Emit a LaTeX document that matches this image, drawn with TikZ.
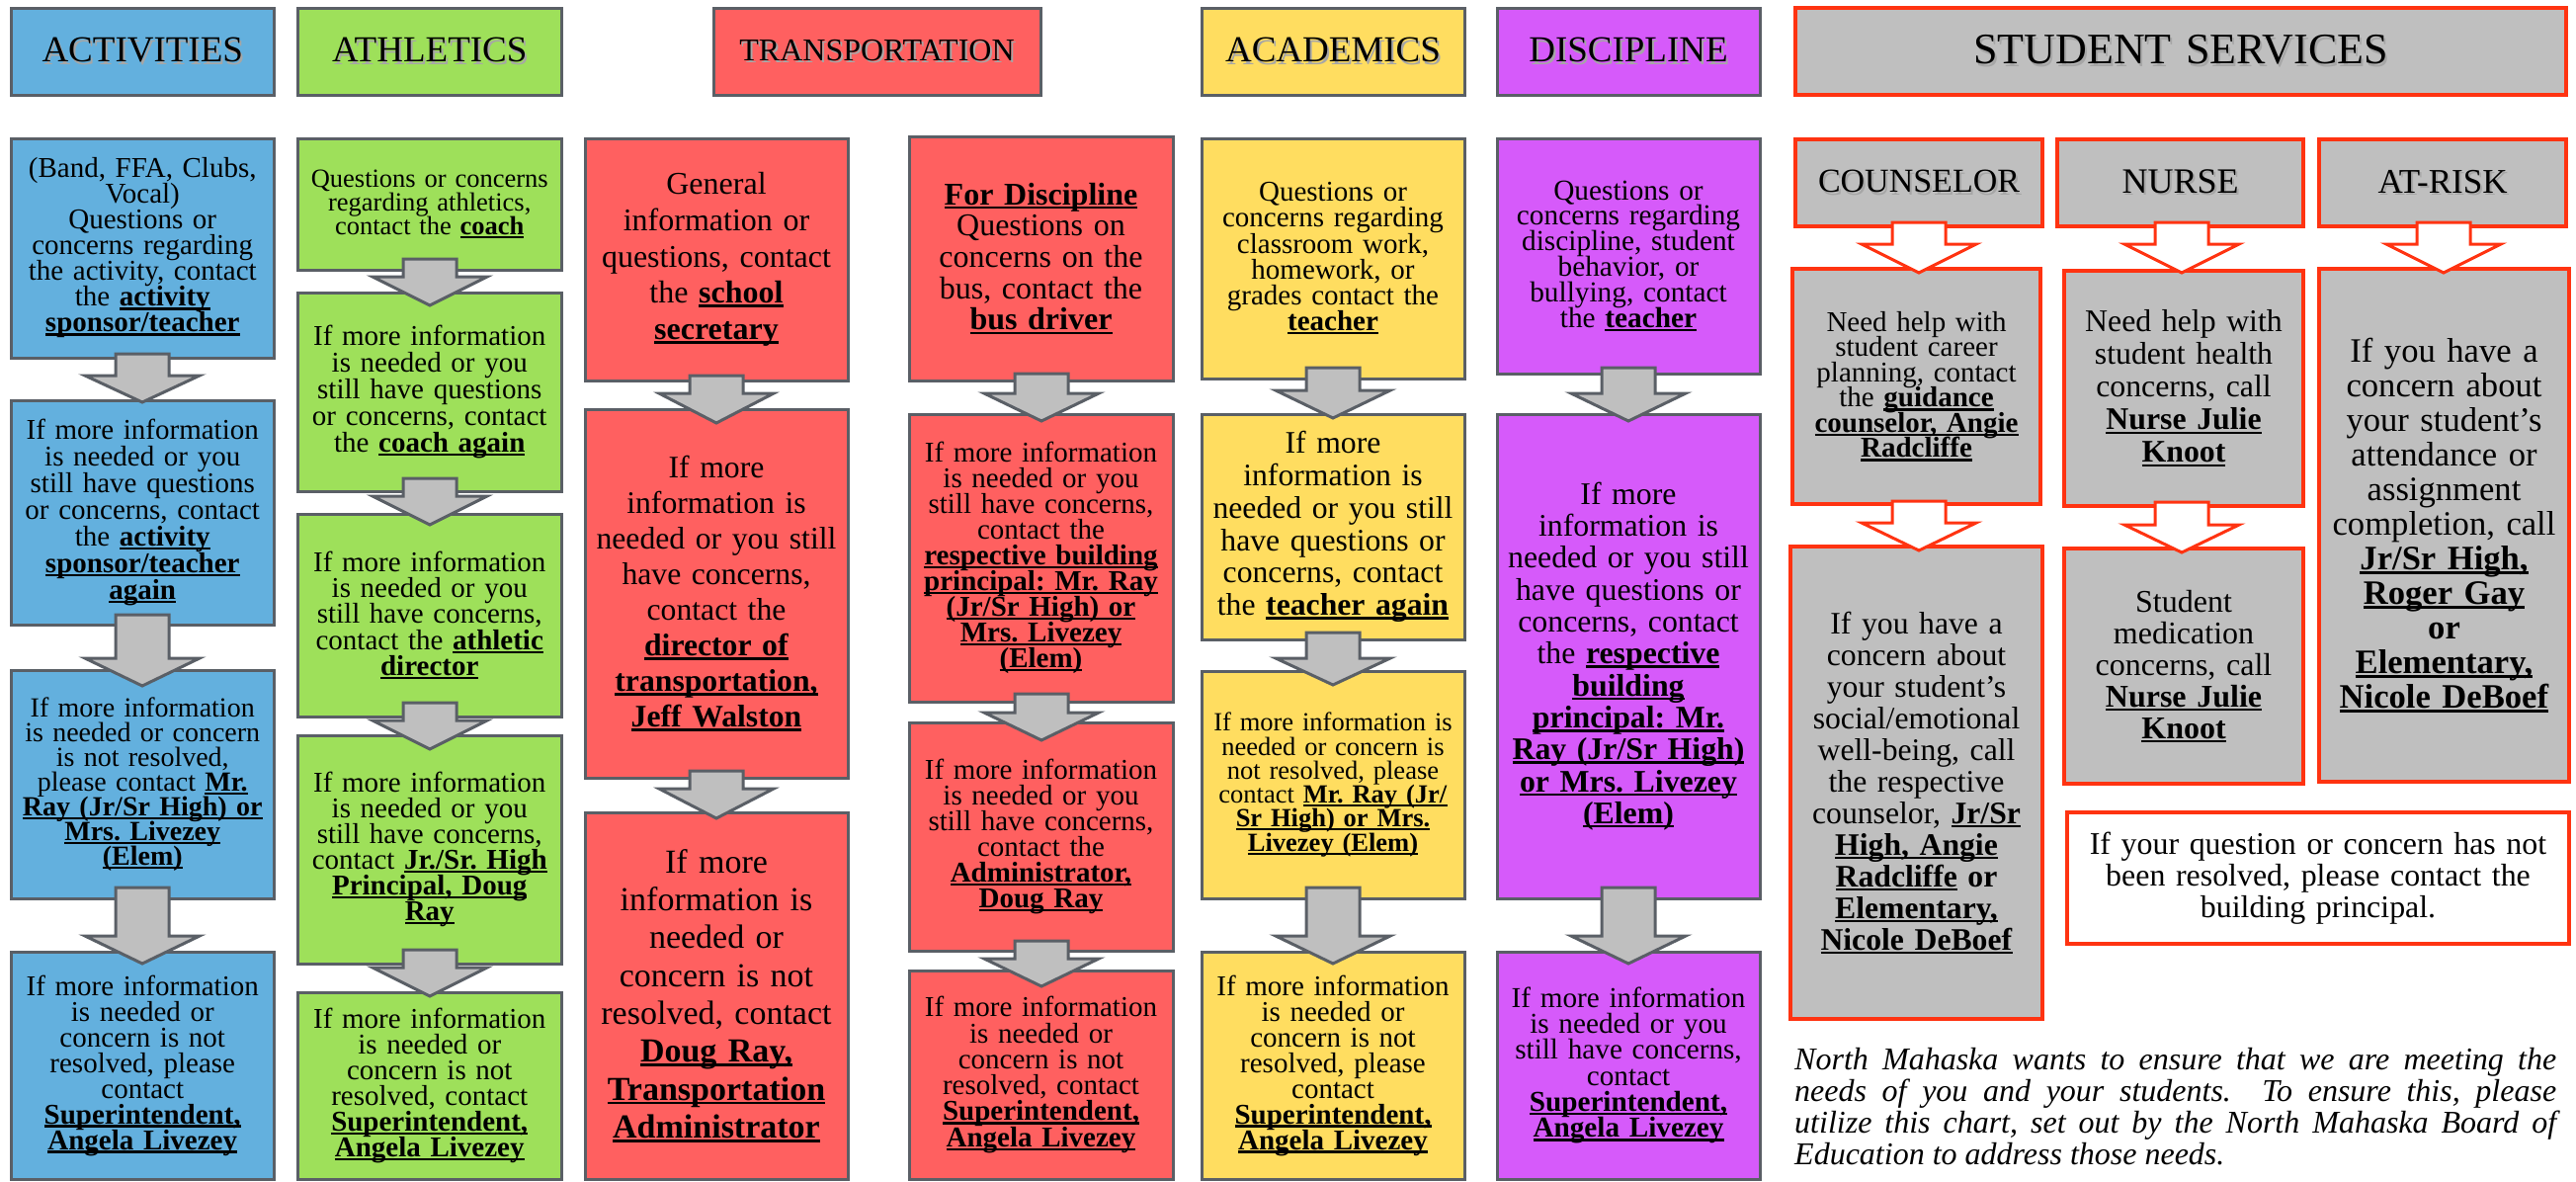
\documentclass[tikz,border=0pt]{standalone}
\usepackage{fontspec}
\setmainfont{Liberation Serif}
\frenchspacing
\definecolor{cblue}{RGB}{99,176,222}
\definecolor{cgreen}{RGB}{158,224,90}
\definecolor{cred}{RGB}{255,96,96}
\definecolor{cyellow}{RGB}{255,221,96}
\definecolor{cpurple}{RGB}{214,90,250}
\definecolor{cgray}{RGB}{191,191,191}
\definecolor{cborder}{RGB}{90,95,102}
\definecolor{corange}{RGB}{255,51,17}
\newcommand\fs[2]{\fontsize{#1}{#2}\selectfont\frenchspacing\lineskiplimit=-100pt\relax}
\newcommand\BU[1]{\leavevmode{\setbox0\hbox{\textbf{#1}}\rlap{\rule[-.13em]{\wd0}{.08em}}\box0}}
\newcommand\shd[1]{\leavevmode\rlap{\hspace{2pt}\raisebox{-2.5pt}{\textcolor{black!35}{#1}}}#1}
\newcommand\bx[7]{%
  \pgfmathsetmacro\BXw{#5-#3}\pgfmathsetmacro\BXh{#6-#4}%
  \pgfmathsetmacro\BXt{#5-#3-6}\pgfmathsetmacro\BXx{(#3+#5)/2}\pgfmathsetmacro\BXy{(#4+#6)/2}%
  \node[#2, minimum width=\BXw pt, minimum height=\BXh pt, text width=\BXt pt] (#1) at (\BXx,\BXy) {#7};}
\newcommand\garr[5]{%
  \draw[#1] ({#2-27},#3) -- ({#2+27},#3) -- ({#2+27},#4) -- ({#2+58},#4) -- (#2,#5) -- ({#2-58},#4) -- ({#2-27},#4) -- cycle;}
\tikzset{
  base/.style={draw=cborder, line width=3pt, inner sep=0pt, align=center, text=black},
  ssbox/.style={draw=corange, line width=3.5pt, fill=cgray, inner sep=0pt, align=center, text=black},
  garrow/.style={draw=cborder, line width=3pt, fill=cgray, line join=miter},
  rarrow/.style={draw=corange, line width=3pt, fill=white, line join=miter},
}
\begin{document}
\begin{tikzpicture}[x=1pt,y=-1pt]
\useasboundingbox[fill=white] (0,0) rectangle (2607,1195);
% ---------- headers ----------
\bx{hAct}{base,fill=cblue,font=\fs{37}{40}}{11.5}{8}{277}{96}{\shd{ACTIVITIES}}
\bx{hAth}{base,fill=cgreen,font=\fs{37}{40}}{301.5}{8}{568}{96}{\shd{ATHLETICS}}
\bx{hTr}{base,fill=cred,font=\fs{32}{36}}{722}{8}{1053}{96}{\shd{TRANSPORTATION}}
\bx{hAca}{base,fill=cyellow,font=\fs{37}{40}}{1216}{8}{1482}{96}{\shd{ACADEMICS}}
\bx{hDis}{base,fill=cpurple,font=\fs{37}{40}}{1515}{8}{1781}{96}{\shd{DISCIPLINE}}
\bx{hSS}{ssbox,font=\fs{44}{48}}{1817}{8}{2597}{96}{\shd{STUDENT SERVICES}}
% ---------- activities ----------
\bx{a1}{base,fill=cblue,font=\fs{29}{26}}{11.5}{140}{277}{362}{(Band, FFA, Clubs,\\Vocal)\\Questions or\\concerns regarding\\the activity, contact\\the \BU{activity}\\\BU{sponsor/teacher}}
\bx{a2}{base,fill=cblue,font=\fs{29}{27}}{11.5}{405}{277}{632}{If more information\\is needed or you\\still have questions\\or concerns, contact\\the \BU{activity}\\\BU{sponsor/teacher}\\\BU{again}}
\bx{a3}{base,fill=cblue,font=\fs{28}{25}}{11.5}{678}{277}{909}{If more information\\is needed or concern\\is not resolved,\\please contact \BU{Mr.}\\\BU{Ray (Jr/Sr High) or}\\\BU{Mrs. Livezey}\\\BU{(Elem)}}
\bx{a4}{base,fill=cblue,font=\fs{29}{26}}{11.5}{963}{277}{1193}{If more information\\is needed or\\concern is not\\resolved, please\\contact\\\BU{Superintendent,}\\\BU{Angela Livezey}}
% ---------- athletics ----------
\bx{t1}{base,fill=cgreen,font=\fs{26.5}{24}}{301.5}{140}{568}{273}{Questions or concerns\\regarding athletics,\\contact the \BU{coach}}
\bx{t2}{base,fill=cgreen,font=\fs{29}{27}}{301.5}{296}{568}{497}{If more information\\is needed or you\\still have questions\\or concerns, contact\\the \BU{coach again}}
\bx{t3}{base,fill=cgreen,font=\fs{29}{26.3}}{301.5}{520}{568}{725}{If more information\\is needed or you\\still have concerns,\\contact the \BU{athletic}\\\BU{director}}
\bx{t4}{base,fill=cgreen,font=\fs{29}{26}}{301.5}{744}{568}{975}{If more information\\is needed or you\\still have concerns,\\contact \BU{Jr./Sr. High}\\\BU{Principal, Doug}\\\BU{Ray}}
\bx{t5}{base,fill=cgreen,font=\fs{29}{26}}{301.5}{1004}{568}{1193}{If more information\\is needed or\\concern is not\\resolved, contact\\\BU{Superintendent,}\\\BU{Angela Livezey}}
% ---------- transportation ----------
\bx{r1}{base,fill=cred,font=\fs{32}{36.7}}{592}{140}{858}{385}{General\\information or\\questions, contact\\the \BU{school}\\\BU{secretary}}
\bx{r2}{base,fill=cred,font=\fs{31.7}{36}}{592}{414}{858}{787}{If more\\information is\\needed or you still\\have concerns,\\contact the\\\BU{director of}\\\BU{transportation,}\\\BU{Jeff Walston}}
\bx{r3}{base,fill=cred,font=\fs{34}{38.3}}{592}{822}{858}{1193}{If more\\information is\\needed or\\concern is not\\resolved, contact\\\BU{Doug Ray,}\\\BU{Transportation}\\\BU{Administrator}}
\bx{s1}{base,fill=cred,font=\fs{32}{31.7}}{920}{138}{1187}{385}{\BU{For Discipline}\\Questions on\\concerns on the\\bus, contact the\\\BU{bus driver}}
\bx{s2}{base,fill=cred,font=\fs{29}{26}}{920}{419}{1187}{710}{If more information\\is needed or you\\still have concerns,\\contact the\\\BU{respective building}\\\BU{principal: Mr. Ray}\\\BU{(Jr/Sr High) or}\\\BU{Mrs. Livezey}\\\BU{(Elem)}}
\bx{s3}{base,fill=cred,font=\fs{29}{26}}{920}{731}{1187}{962}{If more information\\is needed or you\\still have concerns,\\contact the\\\BU{Administrator,}\\\BU{Doug Ray}}
\bx{s4}{base,fill=cred,font=\fs{29}{26.3}}{920}{982}{1187}{1193}{If more information\\is needed or\\concern is not\\resolved, contact\\\BU{Superintendent,}\\\BU{Angela Livezey}}
% ---------- academics ----------
\bx{c1}{base,fill=cyellow,font=\fs{29}{26.2}}{1216}{140}{1482}{383}{Questions or\\concerns regarding\\classroom work,\\homework, or\\grades contact the\\\BU{teacher}}
\bx{c2}{base,fill=cyellow,font=\fs{31.7}{32.7}}{1216}{419}{1482}{647}{If more\\information is\\needed or you still\\have questions or\\concerns, contact\\the \BU{teacher again}}
\bx{c3}{base,fill=cyellow,font=\fs{26.5}{24.3}}{1216}{679}{1482}{909}{If more information is\\needed or concern is\\not resolved, please\\contact \BU{Mr. Ray (Jr/}\\\BU{Sr High) or Mrs.}\\\BU{Livezey (Elem)}}
\bx{c4}{base,fill=cyellow,font=\fs{29}{26}}{1216}{963}{1482}{1193}{If more information\\is needed or\\concern is not\\resolved, please\\contact\\\BU{Superintendent,}\\\BU{Angela Livezey}}
% ---------- discipline ----------
\bx{d1}{base,fill=cpurple,font=\fs{29.3}{25.9}}{1515}{140}{1781}{378}{Questions or\\concerns regarding\\discipline, student\\behavior, or\\bullying, contact\\the \BU{teacher}}
\bx{d2}{base,fill=cpurple,font=\fs{31.8}{32.3}}{1515}{419}{1781}{909}{If more\\information is\\needed or you still\\have questions or\\concerns, contact\\the \BU{respective}\\\BU{building}\\\BU{principal: Mr.}\\\BU{Ray (Jr/Sr High)}\\\BU{or Mrs. Livezey}\\\BU{(Elem)}}
\bx{d3}{base,fill=cpurple,font=\fs{29.2}{26.3}}{1515}{963}{1781}{1193}{If more information\\is needed or you\\still have concerns,\\contact\\\BU{Superintendent,}\\\BU{Angela Livezey}}
% ---------- student services ----------
\bx{hCns}{ssbox,font=\fs{34}{38}}{1817}{141}{2067}{229}{\shd{COUNSELOR}}
\bx{hNrs}{ssbox,font=\fs{36}{40}}{2082}{141}{2331}{229}{\shd{NURSE}}
\bx{hAtr}{ssbox,font=\fs{35}{40}}{2347}{141}{2597}{229}{\shd{AT-RISK}}
\bx{n1}{ssbox,font=\fs{29}{25.5}}{1814}{272}{2065}{510}{Need help with\\student career\\planning, contact\\the \BU{guidance}\\\BU{counselor, Angie}\\\BU{Radcliffe}}
\bx{n2}{ssbox,font=\fs{31.7}{32}}{1812}{553}{2067}{1031}{If you have a\\concern about\\your student’s\\social/emotional\\well-being, call\\the respective\\counselor, \BU{Jr/Sr}\\\BU{High, Angie}\\\BU{Radcliffe} \textbf{or}\\\BU{Elementary,}\\\BU{Nicole DeBoef}}
\bx{u1}{ssbox,font=\fs{31.8}{33}}{2089}{274}{2331}{512}{Need help with\\student health\\concerns, call\\\BU{Nurse Julie}\\\BU{Knoot}}
\bx{u2}{ssbox,font=\fs{32}{32}}{2089}{555}{2331}{793}{Student\\medication\\concerns, call\\\BU{Nurse Julie}\\\BU{Knoot}}
\bx{k1}{ssbox,font=\fs{34.6}{35}}{2347}{272}{2600}{791}{If you have a\\concern about\\your student’s\\attendance or\\assignment\\completion, call\\\BU{Jr/Sr High,}\\\BU{Roger Gay}\\\textbf{or}\\\BU{Elementary,}\\\BU{Nicole DeBoef}}
\bx{pr}{ssbox,fill=white,font=\fs{31.9}{32}}{2092}{822}{2600}{955}{If your question or concern has not\\been resolved, please contact the\\building principal.}
\node[anchor=north west, inner sep=0pt, text width=771pt, align=justify, font=\fs{32}{32}\itshape] (foot) at (1816,1060)
  {North Mahaska wants to ensure that we are meeting the\linebreak needs of you and your students.\ \ To ensure this, please\linebreak utilize this chart, set out by the North Mahaska Board of\linebreak Education to address those needs.};
% ---------- arrows ----------
\garr{garrow}{144}{358}{380}{407}
\garr{garrow}{144}{622}{666}{694}
\garr{garrow}{144}{898}{947}{975}
\garr{garrow}{435}{262}{280}{309}
\garr{garrow}{435}{484}{502}{531}
\garr{garrow}{435}{711}{729}{758}
\garr{garrow}{435}{961}{979}{1008}
\garr{garrow}{725}{380}{398}{428}
\garr{garrow}{725}{780}{798}{828}
\garr{garrow}{1054}{378}{398}{426}
\garr{garrow}{1054}{702}{721}{749}
\garr{garrow}{1054}{952}{970}{998}
\garr{garrow}{1349}{372}{395}{423}
\garr{garrow}{1349}{640}{666}{693}
\garr{garrow}{1349}{898}{947}{975}
\garr{garrow}{1648}{372}{398}{426}
\garr{garrow}{1648}{898}{947}{975}
\garr{rarrow}{1942}{225}{247}{276}
\garr{rarrow}{1942}{507}{529}{557}
\garr{rarrow}{2208}{225}{247}{276}
\garr{rarrow}{2208}{508}{531}{559}
\garr{rarrow}{2473}{225}{247}{276}
\end{tikzpicture}
\end{document}
